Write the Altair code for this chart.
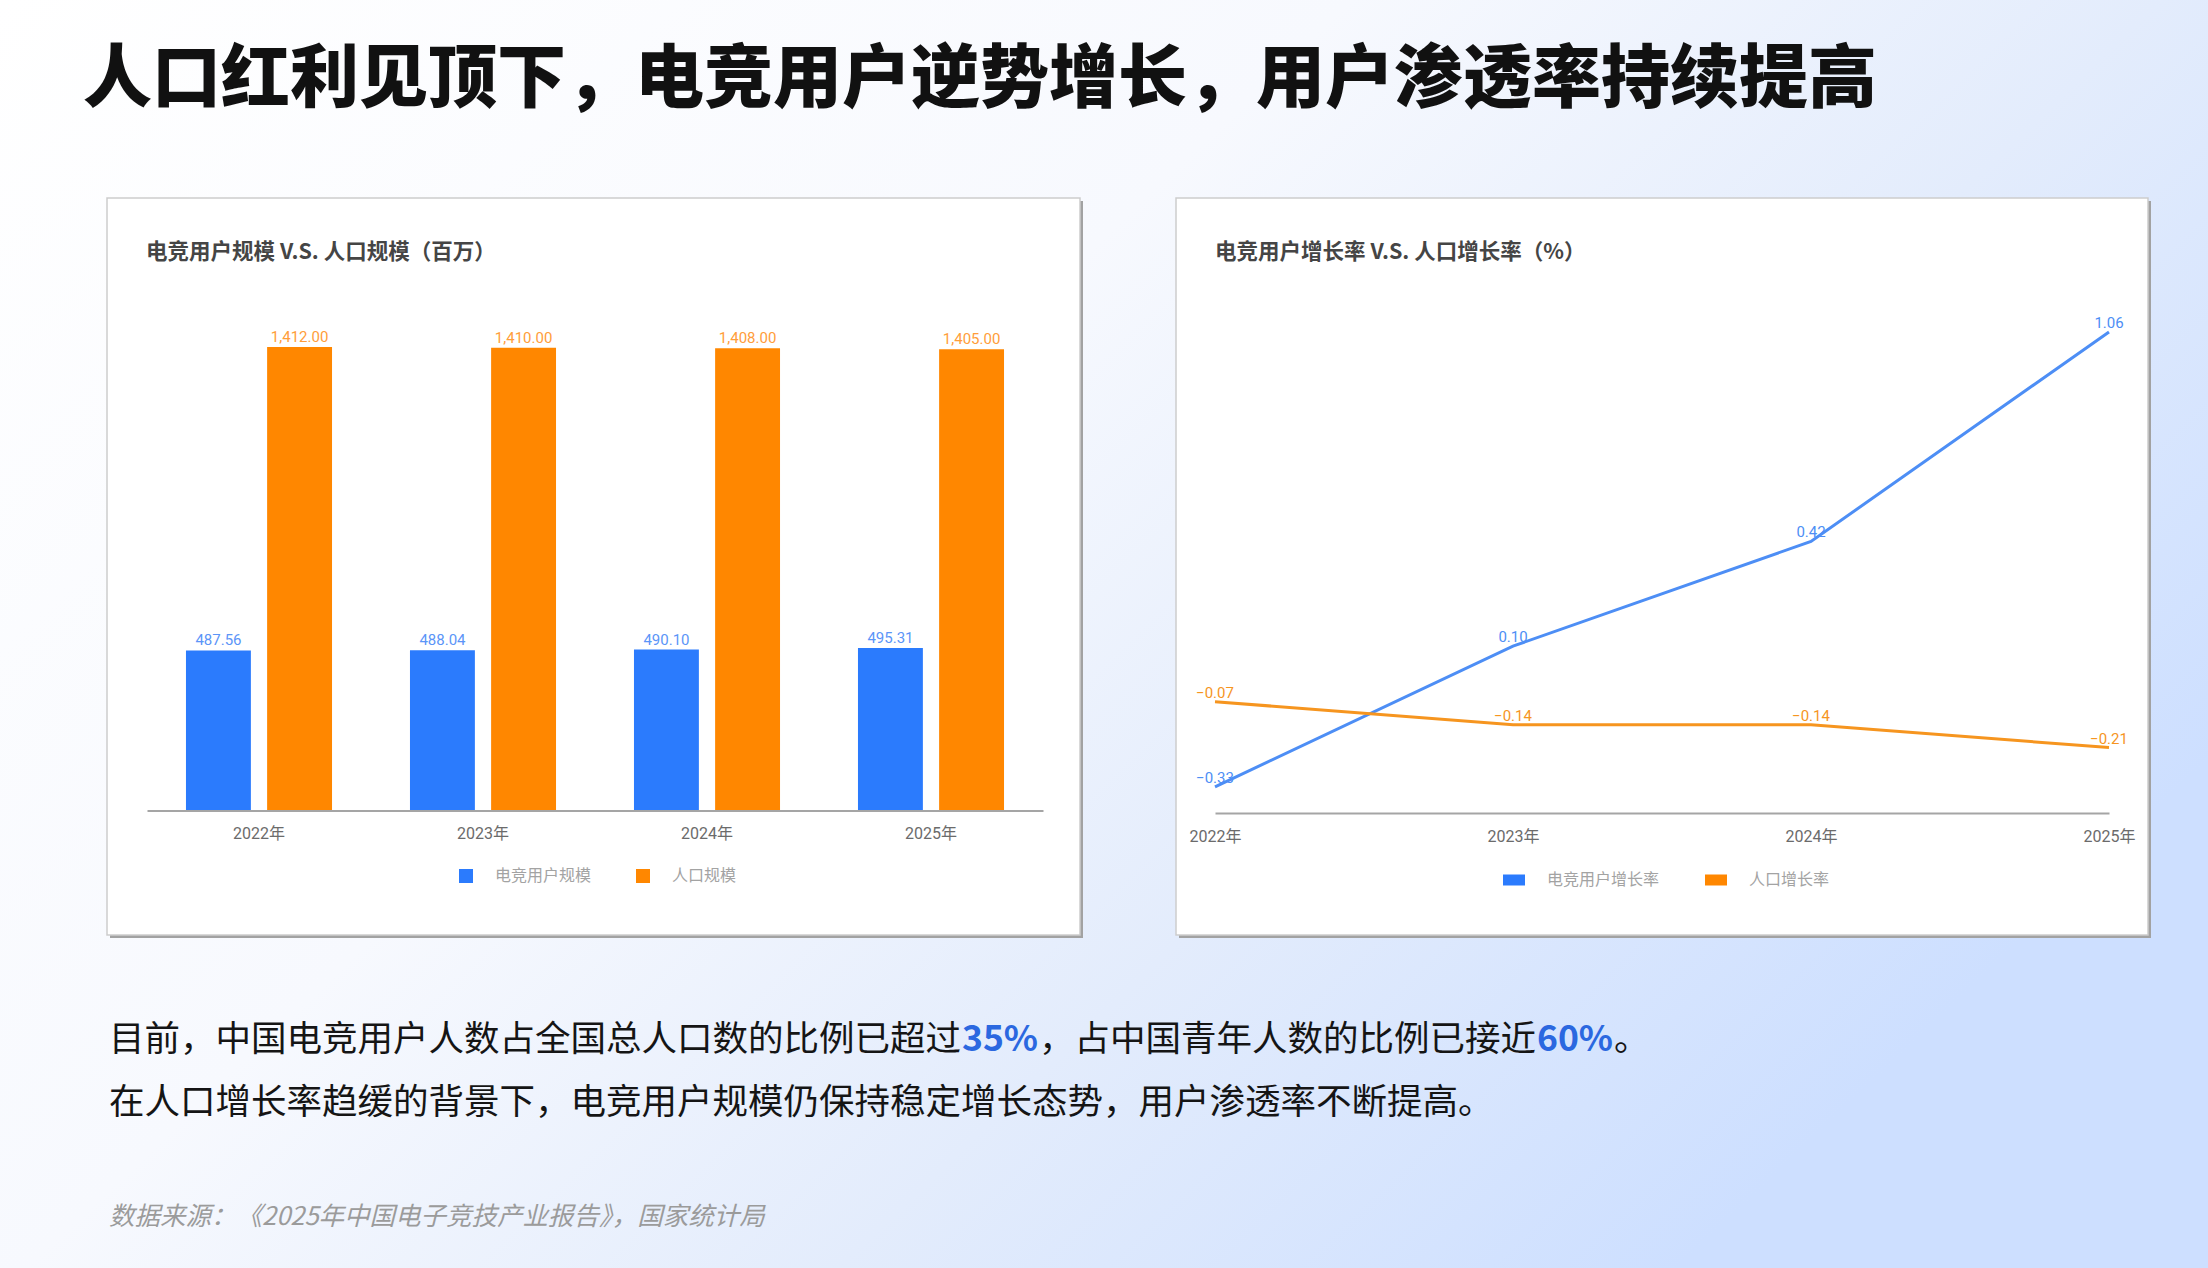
import altair as alt
import pandas as pd

W, H = 2208, 1268

# ---------------- data ----------------
page_title = "人口红利见顶下，电竞用户逆势增长，用户渗透率持续提高"
left_title = "电竞用户规模 V.S. 人口规模（百万）"
right_title = "电竞用户增长率 V.S. 人口增长率（%）"
years = ["2022年", "2023年", "2024年", "2025年"]
bar_series = ["电竞用户规模", "人口规模"]
esports_users = [487.56, 488.04, 490.10, 495.31]
population = [1412.00, 1410.00, 1408.00, 1405.00]
line_series = ["电竞用户增长率", "人口增长率"]
esports_growth = [-0.33, 0.10, 0.42, 1.06]
population_growth = [-0.07, -0.14, -0.14, -0.21]
body_line1 = ["目前，中国电竞用户人数占全国总人口数的比例已超过", "35%",
              "，占中国青年人数的比例已接近", "60%", "。"]
body_line2 = "在人口增长率趋缓的背景下，电竞用户规模仍保持稳定增长态势，用户渗透率不断提高。"
source_note = "数据来源：《2025年中国电子竞技产业报告》，国家统计局"

# ---------------- styles ----------------
CJK = "Noto Sans CJK SC"
NUM = "Roboto, 'Noto Sans CJK SC', sans-serif"
BLUE, ORANGE = "#2b7bfd", "#ff8700"
BLUE_L, ORANGE_L = "#5b95f8", "#ff9d3a"
LBLUE, LORANGE = "#4d8ef5", "#f6951f"
HL = "#2b68e0"

one = pd.DataFrame({"k": [0]})


def box(x0, y0, x1, y1, **mark):
    return alt.Chart(one).mark_rect(**mark).encode(
        x=alt.value(x0), x2=alt.value(x1), y=alt.value(y0), y2=alt.value(y1))


def label(txt, x, y, **mark):
    opts = dict(align="left", baseline="middle")
    opts.update(mark)
    return alt.Chart(pd.DataFrame({"t": [txt]})).mark_text(**opts).encode(
        x=alt.value(x), y=alt.value(y), text="t:N")


def x_axis(offset):
    return alt.Axis(orient="bottom", offset=offset, domainColor="#a5a5a5",
                    domainWidth=2, ticks=False, grid=False, labelPadding=15,
                    labelFontSize=16, labelColor="#6b6b6b", labelFont=NUM,
                    labelAngle=0, zindex=1)


# background gradient
bg = box(0, 0, W, H, fill=alt.LinearGradient(
    gradient="linear", x1=0, y1=0, x2=1, y2=0.6,
    stops=[alt.GradientStop(color="#ffffff", offset=0),
           alt.GradientStop(color="#f7f9fe", offset=0.45),
           alt.GradientStop(color="#e3ecfc", offset=0.72),
           alt.GradientStop(color="#cddfff", offset=1)]))

# cards
shadowL = box(110, 201, 1083, 938, fill="#a2a2a2")
cardL = box(107, 198, 1080, 935, fill="#ffffff", stroke="#cdcdcd", strokeWidth=1.5)
shadowR = box(1179, 201, 2151, 938, fill="#a2a2a2")
cardR = box(1176, 198, 2148, 935, fill="#ffffff", stroke="#cdcdcd", strokeWidth=1.5)

# ---------------- bar chart ----------------
bar_df = pd.DataFrame({
    "year": years * 2,
    "series": [bar_series[0]] * 4 + [bar_series[1]] * 4,
    "value": esports_users + population,
})
bx = alt.X("year:N", sort=years, title=None,
           scale=alt.Scale(range=[147, 1043], paddingInner=0.348, paddingOuter=0.174),
           axis=x_axis(810.5 - H))
by = alt.Y("value:Q", title=None, axis=None,
           scale=alt.Scale(domain=[0, 1412], range=[810.5, 347], nice=False, zero=True))
bxo = alt.XOffset("series:N", sort=bar_series,
                  scale=alt.Scale(paddingInner=0.2, paddingOuter=0))
bars = alt.Chart(bar_df).mark_bar().encode(
    x=bx, y=by, xOffset=bxo,
    color=alt.Color("series:N", sort=bar_series,
                    scale=alt.Scale(domain=bar_series, range=[BLUE, ORANGE]),
                    legend=alt.Legend(orient="none", legendX=458, legendY=868,
                                      direction="horizontal", title=None,
                                      symbolType="square", symbolSize=196,
                                      symbolStrokeWidth=0, labelFontSize=16,
                                      labelColor="#a3a3a3", labelFont=CJK,
                                      labelOffset=21, columnPadding=43, padding=0)))
bar_labels = alt.Chart(bar_df).mark_text(baseline="bottom", dy=-2, fontSize=15,
                                         font=NUM).encode(
    x=bx, y=by, xOffset=bxo,
    text=alt.Text("value:Q", format=",.2f"),
    color=alt.Color("series:N", sort=bar_series,
                    scale=alt.Scale(domain=bar_series, range=[BLUE_L, ORANGE_L]),
                    legend=None))
bar_chart = alt.layer(bars, bar_labels).resolve_scale(color="independent")

# ---------------- line chart ----------------
line_df = pd.DataFrame({
    "year": years * 2,
    "series": [line_series[0]] * 4 + [line_series[1]] * 4,
    "value": esports_growth + population_growth,
})
lx = alt.X("year:N", sort=years, title=None,
           scale=alt.Scale(type="point", range=[1215, 2109], padding=0),
           axis=x_axis(813 - H))
ly = alt.Y("value:Q", title=None, axis=None,
           scale=alt.Scale(domain=[-0.41, 1.06], range=[813, 332], nice=False, zero=False))
lscale = alt.Scale(domain=line_series, range=[LBLUE, LORANGE])
legend_marks = alt.Chart(line_df).mark_square(size=0, filled=True, opacity=1).encode(
    x=lx, y=ly,
    fill=alt.Fill("series:N", sort=line_series,
                  scale=alt.Scale(domain=line_series, range=[BLUE, ORANGE]),
                  legend=alt.Legend(orient="none", legendX=1503, legendY=869,
                                    direction="horizontal", title=None,
                                    symbolType="M-1,-0.5H1V0.5H-1Z", symbolSize=484,
                                    symbolStrokeWidth=0, labelFontSize=16,
                                    labelColor="#a3a3a3", labelFont=CJK,
                                    labelOffset=22, columnPadding=45, padding=0)))
lines = alt.Chart(line_df).mark_line(strokeWidth=3).encode(
    x=lx, y=ly,
    color=alt.Color("series:N", sort=line_series, scale=lscale, legend=None))
line_labels = alt.Chart(line_df).mark_text(baseline="middle", dy=-9, fontSize=15,
                                           font=NUM).encode(
    x=lx, y=ly,
    text=alt.Text("value:Q", format=".2f"),
    color=alt.Color("series:N", sort=line_series, scale=lscale, legend=None))
line_chart = alt.layer(legend_marks, lines, line_labels)

# ---------------- texts ----------------
title = label(page_title, 83, 81, font=CJK, fontSize=69, fontWeight=900, color="#111111")
ltitle = label(left_title, 146, 253, font=CJK, fontSize=21.5, fontWeight="bold", color="#454545")
rtitle = label(right_title, 1215, 253, font=CJK, fontSize=21.5, fontWeight="bold", color="#454545")

FS = 35.5
x0 = 109
seg_w = 78
b1 = label(body_line1[0], x0, 1040, font=CJK, fontSize=FS, color="#151515")
b2 = label(body_line1[1], x0 + 24 * FS + seg_w / 2, 1040, font=CJK, fontSize=FS,
           fontWeight="bold", color=HL, align="center")
b3x = x0 + 24 * FS + seg_w
b3 = label(body_line1[2], b3x, 1040, font=CJK, fontSize=FS, color="#151515")
b4x = b3x + 14 * FS
b4 = label(body_line1[3], b4x + seg_w / 2, 1040, font=CJK, fontSize=FS,
           fontWeight="bold", color=HL, align="center")
b5 = label(body_line1[4], b4x + seg_w, 1040, font=CJK, fontSize=FS, color="#151515")
b6 = label(body_line2, x0, 1103, font=CJK, fontSize=FS, color="#151515")
src = label(source_note, x0, 1217, font=CJK, fontSize=25.5, fontStyle="italic",
            color="#9b9b9b")

chart = alt.layer(
    bg, shadowL, cardL, shadowR, cardR, title, ltitle, rtitle,
    bar_chart, line_chart, b1, b2, b3, b4, b5, b6, src
).resolve_scale(
    x="independent", y="independent", color="independent", fill="independent"
).properties(
    width=W, height=H, padding=0,
    autosize=alt.AutoSizeParams(type="none")
).configure_view(stroke=None)

chart.save("out.html", embed_options={"renderer": "svg", "actions": False})
